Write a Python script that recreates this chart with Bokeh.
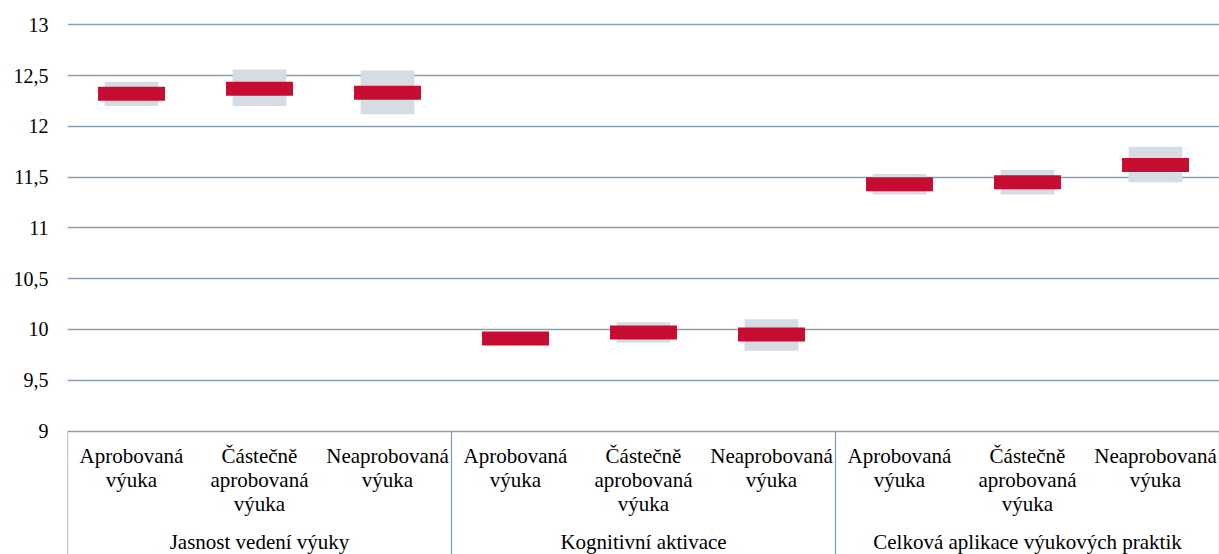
from bokeh.plotting import figure
from bokeh.models import Range1d, FixedTicker, CustomJSTickFormatter, ColumnDataSource
from bokeh.core.properties import value
from bokeh.embed import file_html
from bokeh.resources import INLINE

# ---- data ----
groups = ["Jasnost vedení výuky", "Kognitivní aktivace", "Celková aplikace výukových praktik"]
subs = ["Aprobovaná\nvýuka", "Částečně\naprobovaná\nvýuka", "Neaprobovaná\nvýuka"]
means = [12.32, 12.37, 12.33, 9.91, 9.97, 9.95, 11.43, 11.45, 11.62]
lower = [12.20, 12.20, 12.12, 9.86, 9.87, 9.79, 11.33, 11.33, 11.45]
upper = [12.44, 12.56, 12.55, 9.97, 10.07, 10.10, 11.53, 11.57, 11.80]
y_ticks = [9, 9.5, 10, 10.5, 11, 11.5, 12, 12.5, 13]

FONT = "Liberation Serif"
RED = "#C60C30"
BOX = "#D6DCE4"
GRID = "#8C9DB6"

n_sub = len(subs)
n = len(groups) * n_sub
xs = [i + 0.5 for i in range(n)]
sub_labels = [subs[i % n_sub] for i in range(n)]
group_x = [g * n_sub + n_sub / 2 for g in range(len(groups))]
sep_x = [g * n_sub for g in range(len(groups) + 1)]

W, H = 1219, 554
TOP = 22
px_per_unit = 101.55
top_px = 2.3
y_end = 13 + top_px / px_per_unit
frame_h = H - TOP
y_start = y_end - frame_h / px_per_unit

p = figure(width=W, height=H, output_backend="svg", toolbar_location=None,
           x_range=Range1d(0, n), y_range=Range1d(y_start, y_end),
           min_border_left=67, min_border_right=0, min_border_top=TOP, min_border_bottom=0)
p.outline_line_color = None
p.xaxis.visible = False
p.xgrid.visible = False

yax = p.yaxis[0]
yax.ticker = FixedTicker(ticks=y_ticks)
yax.formatter = CustomJSTickFormatter(code="return tick.toString().replace('.', ',');")
yax.axis_line_color = None
yax.major_tick_line_color = None
yax.minor_tick_line_color = None
yax.major_tick_out = 0
yax.major_label_standoff = 19
yax.major_label_text_font = FONT
yax.major_label_text_font_size = "20px"
yax.major_label_text_color = "black"

p.ygrid.ticker = FixedTicker(ticks=y_ticks)
p.ygrid.grid_line_color = GRID
p.ygrid.grid_line_width = 1.3

src = ColumnDataSource(dict(x=xs, m=means, lo=lower, hi=upper))
p.vbar(x="x", bottom="lo", top="hi", width=0.42, source=src, fill_color=BOX, line_color=None)
p.rect(x="x", y="m", width=0.523, height=14, height_units="screen", source=src,
       fill_color=RED, line_color=None)

# category axis box
p.segment(x0=sep_x, y0=[9] * len(sep_x), x1=sep_x, y1=[y_start] * len(sep_x),
          line_color=GRID, line_width=1.3)

p.text(x=xs, y=[8.875] * n, text=sub_labels, text_font=value(FONT), text_font_size="21px",
       text_align="center", text_baseline="top", text_color="black", text_line_height=1.0)
p.text(x=group_x, y=[7.91] * len(groups), text=groups, text_font=value(FONT),
       text_font_size="21px", text_align="center", text_baseline="middle", text_color="black")

open("out.html", "w").write(file_html(p, INLINE))
